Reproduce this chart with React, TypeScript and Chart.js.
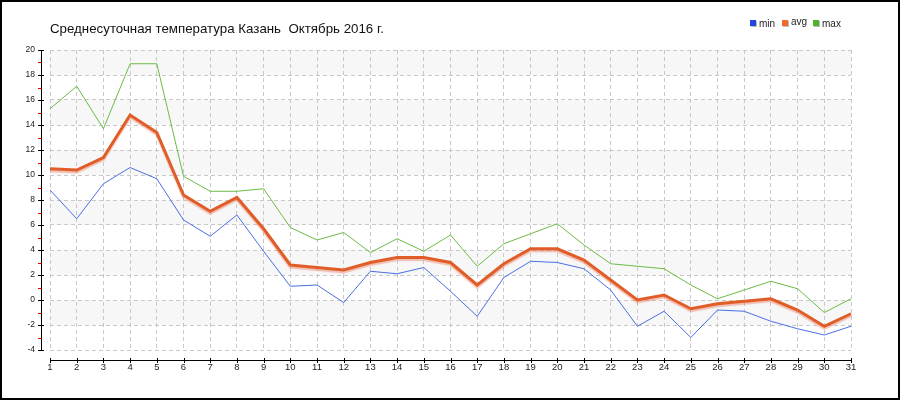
import React, { useEffect, useRef } from "react";
import { Chart, registerables } from "chart.js";

Chart.register(...registerables);

const TITLE = "Среднесуточная температура Казань  Октябрь 2016 г.";
const days = ["1","2","3","4","5","6","7","8","9","10","11","12","13","14","15","16","17","18","19","20","21","22","23","24","25","26","27","28","29","30","31"];
const minTemps = [8.8, 6.5, 9.3, 10.6, 9.7, 6.4, 5.1, 6.8, 3.9, 1.1, 1.2, -0.2, 2.3, 2.1, 2.6, 0.7, -1.3, 1.8, 3.1, 3.0, 2.5, 0.8, -2.1, -0.9, -3.0, -0.8, -0.9, -1.7, -2.3, -2.8, -2.1];
const avgTemps = [10.5, 10.4, 11.4, 14.8, 13.4, 8.4, 7.1, 8.2, 5.7, 2.8, 2.6, 2.4, 3.0, 3.4, 3.4, 3.0, 1.2, 2.9, 4.1, 4.1, 3.2, 1.6, 0.0, 0.4, -0.7, -0.3, -0.1, 0.1, -0.8, -2.1, -1.1];
const maxTemps = [15.3, 17.1, 13.7, 18.9, 18.9, 9.9, 8.7, 8.7, 8.9, 5.8, 4.8, 5.4, 3.8, 4.9, 3.9, 5.2, 2.7, 4.5, 5.3, 6.1, 4.4, 2.9, 2.7, 2.5, 1.2, 0.1, 0.8, 1.5, 0.9, -1.0, 0.1];
const seriesNames = ["min", "avg", "max"];
const yMin = -4;
const yMax = 20;
const yStep = 2;
const bands: [number, number][] = [[18, 20], [14, 16], [10, 12], [6, 8], [2, 4], [-2, 0]];

const FONT = "'Liberation Sans', Arial, sans-serif";

const decorPlugin = {
  id: "decor",
  beforeDraw(chart: any) {
    const { ctx, chartArea, scales } = chart;
    const y = scales.y;
    ctx.save();
    ctx.fillStyle = "#f7f7f7";
    for (const [a, b] of bands) {
      const top = y.getPixelForValue(b);
      const bot = y.getPixelForValue(a);
      ctx.fillRect(chartArea.left, top, chartArea.right - chartArea.left, bot - top);
    }
    ctx.restore();
  },
  beforeDatasetDraw(chart: any, args: any) {
    if (args.index === 1) {
      const ctx = chart.ctx;
      ctx.save();
      ctx.shadowColor = "rgba(235,120,90,0.45)";
      ctx.shadowOffsetY = 2;
      ctx.shadowOffsetX = 0;
      ctx.shadowBlur = 1;
    }
  },
  afterDatasetDraw(chart: any, args: any) {
    if (args.index === 1) chart.ctx.restore();
  },
  afterDraw(chart: any) {
    const { ctx, chartArea, scales, width, height } = chart;
    const x = scales.x;
    const y = scales.y;
    ctx.save();
    const ax = Math.round(chartArea.left - 9) + 0.5;
    ctx.strokeStyle = "#000";
    ctx.lineWidth = 1;
    ctx.beginPath();
    ctx.moveTo(ax, y.getPixelForValue(yMax));
    ctx.lineTo(ax, y.getPixelForValue(yMin));
    ctx.stroke();
    for (let v = yMin; v <= yMax; v += 1) {
      const py = Math.round(y.getPixelForValue(v)) + 0.5;
      ctx.beginPath();
      if ((v - yMin) % 2 === 0) {
        ctx.strokeStyle = "#000";
        ctx.moveTo(ax - 3.5, py);
        ctx.lineTo(ax + 2.5, py);
      } else {
        ctx.strokeStyle = "#e00000";
        ctx.moveTo(ax - 3.5, py);
        ctx.lineTo(ax, py);
      }
      ctx.stroke();
    }
    const ay = Math.round(chartArea.bottom + 10) + 0.5;
    ctx.strokeStyle = "#000";
    ctx.beginPath();
    ctx.moveTo(x.getPixelForValue(0), ay);
    ctx.lineTo(x.getPixelForValue(days.length - 1), ay);
    ctx.stroke();
    for (let i = 0; i < days.length; i++) {
      const px = Math.round(x.getPixelForValue(i)) + 0.5;
      ctx.beginPath();
      ctx.moveTo(px, ay - 2.5);
      ctx.lineTo(px, ay + 2.5);
      ctx.stroke();
    }
    ctx.fillStyle = "#111";
    ctx.font = `13.3px ${FONT}`;
    ctx.textAlign = "left";
    ctx.textBaseline = "alphabetic";
    ctx.fillText(TITLE, chartArea.left, 33);
    const ds = chart.data.datasets;
    const lx = [750, 782, 813];
    ctx.font = `10px ${FONT}`;
    ds.forEach((d: any, i: number) => {
      ctx.fillStyle = "#bbb";
      ctx.fillRect(lx[i] + 1, 21, 6, 6);
      ctx.fillStyle = d.legendColor;
      ctx.fillRect(lx[i], 20, 6, 6);
      ctx.fillStyle = "#222";
      ctx.fillText(d.label, lx[i] + 9, i === 1 ? 25 : 27);
    });
    ctx.strokeStyle = "#000";
    ctx.lineWidth = 2;
    ctx.strokeRect(1, 1, width - 2, height - 2);
    ctx.restore();
  },
};

export default function App() {
  const ref = useRef<HTMLCanvasElement | null>(null);
  useEffect(() => {
    document.body.style.margin = "0";
    const canvas = ref.current!;
    const chart = new Chart(canvas, {
      type: "line",
      data: {
        labels: days,
        datasets: [
          { label: seriesNames[0], data: minTemps, borderColor: "#4a6fe3", borderWidth: 1, pointRadius: 0, tension: 0, legendColor: "#2346e0" } as any,
          { label: seriesNames[1], data: avgTemps, borderColor: "#e05d28", borderWidth: 3, pointRadius: 0, tension: 0, legendColor: "#f06a30" } as any,
          { label: seriesNames[2], data: maxTemps, borderColor: "#6cbb45", borderWidth: 1, pointRadius: 0, tension: 0, legendColor: "#4db32a" } as any,
        ],
      },
      options: {
        responsive: false,
        animation: false,
        devicePixelRatio: 1,
        layout: { padding: { top: 50, right: 49, left: 0, bottom: 0 } },
        plugins: { legend: { display: false }, title: { display: false }, tooltip: { enabled: false } },
        scales: {
          x: {
            type: "category",
            offset: false,
            border: { display: false, dash: [4, 3] },
            grid: { color: "#c8c8c8", drawTicks: false, tickLength: 0 },
            ticks: { padding: 12, color: "#222", font: { family: FONT, size: 9.5 }, autoSkip: false, maxRotation: 0 },
            afterFit: (s: any) => { s.height = 50; },
          } as any,
          y: {
            min: yMin,
            max: yMax,
            border: { display: false, dash: [4, 3] },
            grid: { color: "#c8c8c8", drawTicks: false, tickLength: 0 },
            ticks: { stepSize: yStep, padding: 15, color: "#222", font: { family: FONT, size: 8.5 } },
            afterFit: (s: any) => { s.width = 50; },
          } as any,
        },
      },
      plugins: [decorPlugin],
    });
    return () => chart.destroy();
  }, []);
  return (
    <div style={{ position: "absolute", left: 0, top: 0, width: 900, height: 400, background: "#fff" }}>
      <canvas ref={ref} width={900} height={400} />
    </div>
  );
}
